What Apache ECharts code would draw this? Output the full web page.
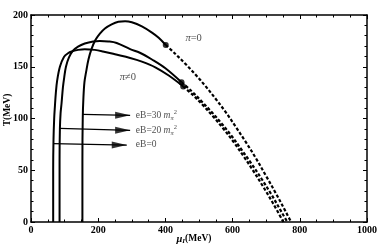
<!DOCTYPE html>
<html><head><meta charset="utf-8">
<script src="https://cdn.jsdelivr.net/npm/echarts@6/dist/echarts.min.js"></script>
<style>html,body{margin:0;padding:0;background:#fff}#c{width:382px;height:250px}</style>
</head><body><div id="c"></div>
<script>
// axis ticks
const xTicks = [0, 200, 400, 600, 800, 1000];
const yTicks = [0, 50, 100, 150, 200];

// solid branches (pi != 0), [mu_I, T]
const solid_eB30 = [[153,0],[153,60],[154,100],[156,120],[159,135],[164,145],[171,157],[180,167],[192,176],[205,182],[220,187],[240,191],[260,193.5],[280,194],[300,193],[330,189],[360,183],[380,178],[401,171]];
const solid_eB20 = [[85,0],[85,60],[86,90],[88,105],[91,115],[95,130],[99,140],[104,150],[113,159],[125,165.5],[140,169.5],[160,172.5],[185,174.5],[205,175],[230,174.5],[255,173],[295,167],[324,163.5],[360,157],[400,148.5],[448,135]];
const solid_eB0 = [[66,0],[66,50],[67,80],[69,100],[71,111],[74,125],[78,137],[86,150],[98,159.5],[110,163],[121,164.8],[140,166.3],[160,167],[190,166.3],[214,164.8],[250,162],[295,158.5],[330,155],[370,149.5],[410,141.5],[453,131]];

// dashed branches (pi = 0)
const dashed_eB30 = [[401,171],[431,162],[460,152.6],[490,142.2],[520,131],[550,118.8],[580,105.9],[609,92.1],[639,77.4],[669,61.8],[698,45.4],[728,28.1],[758,10],[774,0]];
const dashed_eB20 = [[448,135],[478,126.4],[507,116.8],[537,106.5],[567,95.3],[597,83.2],[626,70.2],[656,56.4],[686,41.8],[716,26.3],[745,10],[763,0]];
const dashed_eB0 = [[453,131],[483,122.3],[512,112.7],[542,102],[572,90.3],[602,77.8],[631,64.3],[661,49.7],[691,34.1],[721,17.7],[751,0]];

// junction points
const junctions = [[401,171],[448,135],[453,131]];

// arrows and their labels
const arrowFrom = [[153,104],[85,90.5],[66,75.8]];
const arrowTo = [[295,103.1],[295,88.6],[285,74.3]];
const arrowLabels = ['{t|eB=30 }{m|m}{s|π}{p|2}', '{t|eB=20 }{m|m}{s|π}{p|2}', '{t|eB=0}'];
const arrowLabelPos = [[312,103.3],[312,88.8],[312,74.6]];

// region labels
const regionLabels = ['{i|π}=0', '{i|π}≠0'];
const regionLabelPos = [[484,177.5],[288,140]];

const chart = echarts.init(document.getElementById('c'), null, {renderer: 'canvas'});
const serif = '"Liberation Serif","DejaVu Serif",serif';

function curve(data, dashed) {
  return {
    type: 'line', data: data, smooth: 0.35, symbol: 'none', silent: true,
    lineStyle: {color: '#000', width: dashed ? 2.2 : 2, type: dashed ? [3.2, 2] : 'solid'},
    z: 3
  };
}

const labelRich = {
  t: {fontFamily: serif, fontSize: 9.5, color: '#222', lineHeight: 13, verticalAlign: 'middle'},
  m: {fontFamily: serif, fontSize: 9.5, fontStyle: 'italic', color: '#222', lineHeight: 13, verticalAlign: 'middle'},
  s: {fontFamily: serif, fontSize: 6.5, fontStyle: 'italic', color: '#222', verticalAlign: 'bottom'},
  p: {fontFamily: serif, fontSize: 6.5, color: '#222', verticalAlign: 'top'},
  i: {fontFamily: serif, fontSize: 10.5, fontStyle: 'italic', color: '#222'}
};

const series = [
  curve(solid_eB30, false), curve(solid_eB20, false), curve(solid_eB0, false),
  curve(dashed_eB30, true), curve(dashed_eB20, true), curve(dashed_eB0, true),
  {type: 'scatter', data: junctions, symbol: 'circle', symbolSize: 6, itemStyle: {color: '#000'}, silent: true, z: 4}
];
arrowFrom.forEach(function (a, k) {
  series.push({type: 'line', data: [a, arrowTo[k]], symbol: 'none', silent: true,
    lineStyle: {color: '#000', width: 1.2}, z: 3});
});
series.push({type: 'scatter', data: arrowTo, symbol: 'path://M0,0 L15,3.5 L0,7 Z',
  symbolSize: [15, 7], symbolOffset: [-7.5, 0], itemStyle: {color: '#000'}, silent: true, z: 4});
series.push({type: 'scatter', symbolSize: 0, silent: true, z: 5,
  data: arrowLabelPos.map(function (p, k) { return {value: p, label: {formatter: arrowLabels[k]}}; }),
  label: {show: true, position: 'right', distance: 0, rich: labelRich}});
series.push({type: 'scatter', symbolSize: 0, silent: true, z: 5,
  data: regionLabelPos.map(function (p, k) { return {value: p, label: {formatter: regionLabels[k]}}; }),
  label: {show: true, position: 'inside', fontFamily: serif, fontSize: 10.5, color: '#222', rich: labelRich}});

const axisLine = {show: true, onZero: false, lineStyle: {color: '#000', width: 1.5}};
const tickLine = {color: '#000', width: 1};
const plain = function (v) { return String(v); };

chart.setOption({
  animation: false,
  backgroundColor: '#fff',
  grid: {left: 31, right: 15, top: 15, bottom: 28},
  xAxis: [{
    type: 'value', min: xTicks[0], max: xTicks[xTicks.length - 1], interval: xTicks[1] - xTicks[0],
    axisLine: axisLine, splitLine: {show: false},
    axisTick: {show: true, inside: true, length: 4, lineStyle: tickLine},
    minorTick: {show: true, splitNumber: 4, length: 2.5, lineStyle: tickLine},
    axisLabel: {fontFamily: serif, fontWeight: 'bold', fontSize: 10, color: '#000', margin: 3, formatter: plain}
  }, {
    type: 'value', position: 'top', min: xTicks[0], max: xTicks[xTicks.length - 1], interval: xTicks[1] - xTicks[0],
    axisLine: axisLine, splitLine: {show: false},
    axisTick: {show: true, inside: true, length: 4, lineStyle: tickLine},
    minorTick: {show: true, splitNumber: 4, length: 2.5, lineStyle: tickLine},
    axisLabel: {show: false}
  }],
  yAxis: [{
    type: 'value', min: yTicks[0], max: yTicks[yTicks.length - 1], interval: yTicks[1] - yTicks[0],
    axisLine: axisLine, splitLine: {show: false},
    axisTick: {show: true, inside: true, length: 4, lineStyle: tickLine},
    minorTick: {show: true, splitNumber: 5, length: 2.5, lineStyle: tickLine},
    axisLabel: {fontFamily: serif, fontWeight: 'bold', fontSize: 10, color: '#000', margin: 3, formatter: plain}
  }, {
    type: 'value', position: 'right', min: yTicks[0], max: yTicks[yTicks.length - 1], interval: yTicks[1] - yTicks[0],
    axisLine: axisLine, splitLine: {show: false},
    axisTick: {show: true, inside: true, length: 4, lineStyle: tickLine},
    minorTick: {show: true, splitNumber: 5, length: 2.5, lineStyle: tickLine},
    axisLabel: {show: false}
  }],
  graphic: [{
    type: 'text', x: 8, y: 110, rotation: Math.PI / 2,
    style: {text: 'T(MeV)', font: 'bold 9.5px ' + serif, fill: '#000', align: 'center', verticalAlign: 'middle'}
  }, {
    type: 'text', x: 194, y: 239,
    style: {
      text: '{m|μ}{s|I}{b|(MeV)}', align: 'center', verticalAlign: 'middle', fill: '#000',
      rich: {
        m: {fontFamily: serif, fontSize: 10.5, fontStyle: 'italic', fontWeight: 'bold', lineHeight: 12, verticalAlign: 'middle'},
        s: {fontFamily: serif, fontSize: 7, fontStyle: 'italic', fontWeight: 'bold', verticalAlign: 'bottom'},
        b: {fontFamily: serif, fontSize: 9.5, fontWeight: 'bold', lineHeight: 12, verticalAlign: 'middle'}
      }
    }
  }],
  series: series
});
</script>
</body></html>
